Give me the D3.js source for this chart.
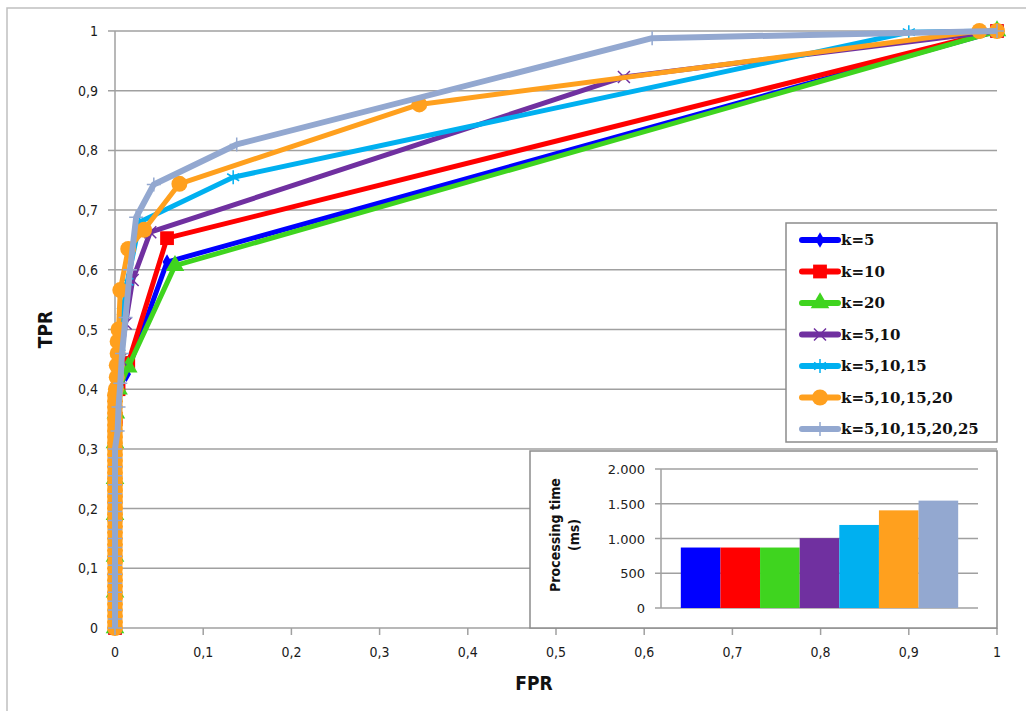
<!DOCTYPE html>
<html>
<head>
<meta charset="utf-8">
<script src="https://cdn.jsdelivr.net/npm/d3@7"></script>
<style>
  body { margin: 0; background: #fff; }
  svg { display: block; }
</style>
</head>
<body>
<svg id="chart" width="1026" height="711"></svg>
<script>
// ROC points [FPR, TPR] per series
const k5 = [[0,0],[0,0.05],[0,0.1],[0,0.15],[0,0.2],[0,0.26],[0,0.31],[0.001,0.36],[0.003,0.4],[0.013,0.425],[0.059,0.613],[1,1]];
const k10 = [[0,0],[0,0.06],[0,0.12],[0,0.18],[0,0.24],[0,0.3],[0.001,0.35],[0.004,0.4],[0.015,0.444],[0.059,0.653],[1,1]];
const k20 = [[0,0],[0,0.06],[0,0.12],[0,0.19],[0,0.25],[0,0.31],[0.001,0.36],[0.004,0.4],[0.015,0.437],[0.068,0.607],[1,1]];
const k5_10 = [[0,0],[0,0.07],[0,0.14],[0,0.21],[0,0.28],[0,0.34],[0.002,0.4],[0.006,0.45],[0.012,0.51],[0.02,0.583],[0.04,0.663],[0.577,0.923],[1,1]];
const k5_15 = [[0,0],[0,0.06],[0,0.12],[0,0.18],[0,0.24],[0,0.3],[0.001,0.36],[0.003,0.41],[0.005,0.46],[0.009,0.53],[0.014,0.58],[0.028,0.68],[0.134,0.755],[0.9,0.998],[1,1]];
const k5_20 = [[0,0],[0,0.01],[0,0.02],[0,0.03],[0,0.04],[0,0.05],[0,0.06],[0,0.07],[0,0.08],[0,0.09],[0,0.1],[0,0.11],[0,0.12],[0,0.13],[0,0.14],[0,0.15],[0,0.16],[0,0.17],[0,0.18],[0,0.19],[0,0.2],[0,0.21],[0,0.22],[0,0.23],[0,0.24],[0,0.25],[0,0.26],[0,0.27],[0,0.28],[0,0.29],[0,0.3],[0,0.31],[0,0.32],[0,0.33],[0,0.34],[0,0.35],[0,0.36],[0,0.37],[0,0.38],[0,0.39],[0.001,0.4],[0.002,0.42],[0.002,0.44],[0.003,0.46],[0.003,0.48],[0.004,0.5],[0.006,0.566],[0.015,0.635],[0.033,0.667],[0.073,0.744],[0.345,0.877],[0.98,1],[1,1]];
const k5_25 = [[0,0],[0,0.015],[0,0.03],[0,0.045],[0,0.06],[0,0.075],[0,0.09],[0,0.105],[0,0.12],[0,0.135],[0,0.15],[0,0.165],[0,0.18],[0,0.195],[0,0.21],[0,0.225],[0,0.24],[0,0.255],[0,0.27],[0,0.285],[0,0.3],[0.003,0.33],[0.004,0.37],[0.006,0.41],[0.008,0.46],[0.012,0.52],[0.017,0.6],[0.024,0.688],[0.044,0.743],[0.138,0.81],[0.609,0.988],[1,1]];

const seriesNames = ["k=5", "k=10", "k=20", "k=5,10", "k=5,10,15", "k=5,10,15,20", "k=5,10,15,20,25"];
const seriesPoints = [k5, k10, k20, k5_10, k5_15, k5_20, k5_25];
const seriesColors = ["#0000ff", "#ff0000", "#3fd41f", "#7030a0", "#00b0f0", "#ffa01e", "#93a8d0"];
const seriesMarkers = ["diamond", "square", "triangle", "times", "asterisk", "circle", "plus"];

// inset bar chart: processing time (ms)
const processingTime = [870, 870, 870, 1005, 1195, 1405, 1545];
const xTicks = [0, 0.1, 0.2, 0.3, 0.4, 0.5, 0.6, 0.7, 0.8, 0.9, 1];
const yTicks = [0, 0.1, 0.2, 0.3, 0.4, 0.5, 0.6, 0.7, 0.8, 0.9, 1];
const insetTicks = [0, 500, 1000, 1500, 2000];

const svg = d3.select("#chart");
const gridColor = "#a0a0a0";
const labelFont = "'Liberation Sans Narrow', 'DejaVu Sans Condensed', sans-serif";
const fmt = (d) => String(d).replace(".", ",");

// outer frame
svg.append("path")
  .attr("d", "M7,711 V8 H1026")
  .attr("fill", "none")
  .attr("stroke", "#c0c0c0")
  .attr("stroke-width", 1.5);

const x = d3.scaleLinear().domain([0, 1]).range([115, 997]);
const y = d3.scaleLinear().domain([0, 1]).range([628, 31]);

// horizontal gridlines + left ticks
svg.append("g")
  .selectAll("line")
  .data(yTicks)
  .join("line")
  .attr("x1", 108)
  .attr("x2", 997)
  .attr("y1", (d) => y(d))
  .attr("y2", (d) => y(d))
  .attr("stroke", gridColor)
  .attr("stroke-width", 1.5);

// y axis line
svg.append("line")
  .attr("x1", 115).attr("x2", 115)
  .attr("y1", y(1)).attr("y2", y(0) + 7)
  .attr("stroke", gridColor)
  .attr("stroke-width", 1.5);

// x ticks below axis
svg.append("g")
  .selectAll("line")
  .data(xTicks)
  .join("line")
  .attr("x1", (d) => x(d))
  .attr("x2", (d) => x(d))
  .attr("y1", y(0))
  .attr("y2", y(0) + 7)
  .attr("stroke", gridColor)
  .attr("stroke-width", 1.5);

svg.append("g")
  .selectAll("text")
  .data(yTicks)
  .join("text")
  .attr("x", 98)
  .attr("y", (d) => y(d) + 5)
  .attr("text-anchor", "end")
  .attr("font-family", labelFont)
  .attr("font-size", 14)
  .attr("fill", "#1a1a1a")
  .text(fmt);

svg.append("g")
  .selectAll("text")
  .data(xTicks)
  .join("text")
  .attr("x", (d) => x(d))
  .attr("y", 657)
  .attr("text-anchor", "middle")
  .attr("font-family", labelFont)
  .attr("font-size", 14)
  .attr("fill", "#1a1a1a")
  .text(fmt);

svg.append("text")
  .attr("x", x(0.5) - 22)
  .attr("y", 690)
  .attr("text-anchor", "middle")
  .attr("font-family", labelFont)
  .attr("font-weight", "bold")
  .attr("font-size", 19)
  .attr("fill", "#111")
  .text("FPR");

svg.append("text")
  .attr("transform", `translate(52,${y(0.5)}) rotate(-90)`)
  .attr("text-anchor", "middle")
  .attr("font-family", labelFont)
  .attr("font-weight", "bold")
  .attr("font-size", 19)
  .attr("fill", "#111")
  .text("TPR");

// marker shapes
function markerPath(type) {
  if (type === "diamond") return d3.symbol(d3.symbolDiamond, 70)();
  if (type === "square") return d3.symbol(d3.symbolSquare, 190)();
  if (type === "triangle") return d3.symbol(d3.symbolTriangle, 150)();
  if (type === "circle") return d3.symbol(d3.symbolCircle, 200)();
  if (type === "times") return "M-6,-6L6,6M-6,6L6,-6";
  if (type === "plus") return "M0,-7V7M-7,0H7";
  // asterisk
  return "M0,-7V7M-6,-3.5L6,3.5M-6,3.5L6,-3.5";
}
const strokeMarker = (type) => ["times", "plus", "asterisk"].includes(type);

// inset panel sits behind the curves
const inset = svg.append("g");
inset.append("rect")
  .attr("x", 530).attr("y", 451)
  .attr("width", 467).attr("height", 177)
  .attr("fill", "#fff")
  .attr("stroke", "#8c8c8c")
  .attr("stroke-width", 1.5);

const line = d3.line().x((d) => x(d[0])).y((d) => y(d[1]));

seriesPoints.forEach((pts, i) => {
  const g = svg.append("g");
  g.append("path")
    .datum(pts)
    .attr("d", line)
    .attr("fill", "none")
    .attr("stroke", seriesColors[i])
    .attr("stroke-width", i === 6 ? 6 : 5)
    .attr("stroke-linejoin", "round");
  g.selectAll("path.m")
    .data(pts)
    .join("path")
    .attr("class", "m")
    .attr("transform", (d) => `translate(${x(d[0])},${y(d[1])})`)
    .attr("d", markerPath(seriesMarkers[i]))
    .attr("fill", strokeMarker(seriesMarkers[i]) ? "none" : seriesColors[i])
    .attr("stroke", strokeMarker(seriesMarkers[i]) ? seriesColors[i] : "none")
    .attr("stroke-width", 1.5);
});

// inset bar chart
const ix = d3.scaleBand().domain(seriesNames).range([661, 978]).paddingInner(0).paddingOuter(0.5);
const iy = d3.scaleLinear().domain([0, 2000]).range([608, 469]);

inset.append("g")
  .selectAll("line")
  .data(insetTicks)
  .join("line")
  .attr("x1", 655)
  .attr("x2", 978)
  .attr("y1", (d) => iy(d))
  .attr("y2", (d) => iy(d))
  .attr("stroke", gridColor)
  .attr("stroke-width", 1.5);

inset.append("line")
  .attr("x1", 661).attr("x2", 661)
  .attr("y1", iy(2000)).attr("y2", iy(0))
  .attr("stroke", gridColor)
  .attr("stroke-width", 1.5);

inset.append("g")
  .selectAll("text")
  .data(insetTicks)
  .join("text")
  .attr("x", 645)
  .attr("y", (d) => iy(d) + 5)
  .attr("text-anchor", "end")
  .attr("font-family", "'DejaVu Sans', sans-serif")
  .attr("font-size", 13)
  .attr("fill", "#222")
  .text((d) => d3.format(",")(d).replace(",", "."));

inset.append("g")
  .selectAll("rect")
  .data(processingTime)
  .join("rect")
  .attr("x", (d, i) => ix(seriesNames[i]))
  .attr("y", (d) => iy(d))
  .attr("width", ix.bandwidth())
  .attr("height", (d) => iy(0) - iy(d))
  .attr("fill", (d, i) => seriesColors[i]);

const insetLabel = inset.append("text")
  .attr("transform", "translate(560,535) rotate(-90)")
  .attr("text-anchor", "middle")
  .attr("font-family", labelFont)
  .attr("font-weight", "bold")
  .attr("font-size", 14)
  .attr("fill", "#111");
insetLabel.append("tspan").attr("x", 0).attr("dy", 0).text("Processing time");
insetLabel.append("tspan").attr("x", 0).attr("dy", 19).text("(ms)");

// legend
const legend = svg.append("g");
legend.append("rect")
  .attr("x", 786).attr("y", 223)
  .attr("width", 211).attr("height", 219)
  .attr("fill", "#fff")
  .attr("stroke", "#8c8c8c")
  .attr("stroke-width", 1.5);

seriesNames.forEach((name, i) => {
  const ly = 240 + i * 31.5;
  legend.append("line")
    .attr("x1", 802).attr("x2", 838)
    .attr("y1", ly).attr("y2", ly)
    .attr("stroke", seriesColors[i])
    .attr("stroke-width", 6)
    .attr("stroke-linecap", "round");
  legend.append("path")
    .attr("transform", `translate(820,${ly})`)
    .attr("d", markerPath(seriesMarkers[i]))
    .attr("fill", strokeMarker(seriesMarkers[i]) ? "none" : seriesColors[i])
    .attr("stroke", strokeMarker(seriesMarkers[i]) ? seriesColors[i] : "none")
    .attr("stroke-width", 1.5);
  legend.append("text")
    .attr("x", 841)
    .attr("y", ly + 5)
    .attr("font-family", "'DejaVu Serif', serif")
    .attr("font-weight", "bold")
    .attr("font-size", 15)
    .attr("fill", "#111")
    .text(name);
});
</script>
</body>
</html>
